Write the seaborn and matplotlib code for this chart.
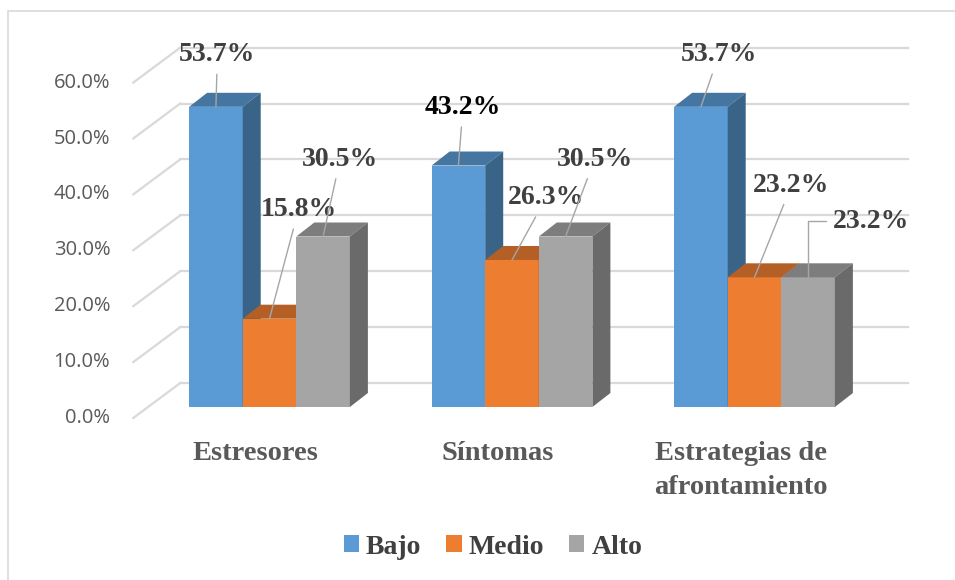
import numpy as np
import pandas as pd
import seaborn as sns
import matplotlib.pyplot as plt
from matplotlib.patches import Polygon, Patch, Rectangle
from matplotlib.lines import Line2D
from matplotlib.transforms import IdentityTransform, ScaledTranslation, blended_transform_factory
from matplotlib.colors import to_rgb

# data
categorias = ["Estresores", "Síntomas", "Estrategias de\nafrontamiento"]
niveles = ["Bajo", "Medio", "Alto"]
bajo = [53.7, 43.2, 53.7]
medio = [15.8, 26.3, 23.2]
alto = [30.5, 30.5, 23.2]
yticks = [0, 10, 20, 30, 40, 50, 60]

colores = ["#5B9BD5", "#ED7D31", "#A5A5A5"]

df = pd.DataFrame({
    "cat": categorias * 3,
    "nivel": ["Bajo"] * 3 + ["Medio"] * 3 + ["Alto"] * 3,
    "pct": bajo + medio + alto,
})

W, H = 955, 580
fig = plt.figure(figsize=(W / 100, H / 100), dpi=100)

# axes holds the front faces of the bars (pixel layout of the original)
left, right, bottom, top = 148.25, 875.75, 407, 71.6
ax = fig.add_axes([left / W, 1 - bottom / H, (right - left) / W, (bottom - top) / H])

sns.barplot(data=df, x="cat", y="pct", hue="nivel", order=categorias, hue_order=niveles,
            palette=colores, saturation=1, width=0.663, linewidth=0, legend=False, ax=ax)
ax.set_xlim(-0.5, 2.5)
ax.set_ylim(0, 60)
ax.set_autoscale_on(False)
ax.axis("off")

# depth offsets in pixels
bar_dx, bar_dy = 18, 14       # bar depth
back_dx, back_dy = 32, 24     # bar front -> back wall
front_dx, front_dy = -15, -11  # bar front -> front plane (tick labels)

grid_c = "#D9D9D9"
blend = blended_transform_factory(ax.transAxes, ax.transData)
for v in yticks:
    ax.plot([0, 1], [v, v], color=grid_c, lw=1.6, zorder=0, clip_on=False,
            transform=blend + ScaledTranslation(back_dx / 100, back_dy / 100, fig.dpi_scale_trans))
    X, Y = blend.transform((0, v))
    ax.add_line(Line2D([X + front_dx, X + back_dx], [Y + front_dy, Y + back_dy], color=grid_c,
                       lw=1.6, zorder=0, transform=IdentityTransform(), clip_on=False))
    ax.text(0, v, f"{v:.1f}%", ha="right", va="center", fontsize=14.5, color="#595959",
            family="Open Sans",
            transform=blend + ScaledTranslation(-38 / 100, front_dy / 100, fig.dpi_scale_trans))

# 3D faces for each bar, painted left to right
bars = sorted(ax.patches, key=lambda p: p.get_x())
for i, p in enumerate(bars):
    x0, x1, h = p.get_x(), p.get_x() + p.get_width(), p.get_height()
    X0, Yb = ax.transData.transform((x0, 0))
    X1, Yt = ax.transData.transform((x1, h))
    c = np.array(to_rgb(p.get_facecolor()))
    z = 2 + i * 3
    p.set_zorder(z)
    topf = [(X0, Yt), (X1, Yt), (X1 + bar_dx, Yt + bar_dy), (X0 + bar_dx, Yt + bar_dy)]
    side = [(X1, Yb), (X1, Yt), (X1 + bar_dx, Yt + bar_dy), (X1 + bar_dx, Yb + bar_dy)]
    ax.add_patch(Polygon(topf, closed=True, fc=c * 0.76, lw=0, zorder=z + 1,
                         transform=IdentityTransform(), clip_on=False))
    ax.add_patch(Polygon(side, closed=True, fc=c * 0.64, lw=0, zorder=z + 1,
                         transform=IdentityTransform(), clip_on=False))

# data labels with leader lines: offsets (pixels) from bar top centre
offsets = {
    ("Bajo", 0): (1.5, 52), ("Medio", 0): (29, 109), ("Alto", 0): (17, 77),
    ("Bajo", 1): (4.5, 58), ("Medio", 1): (34, 62), ("Alto", 1): (29, 77),
    ("Bajo", 2): (18, 52), ("Medio", 2): (37, 92), ("Alto", 2): (63, 56),
}
series = {"Bajo": bajo, "Medio": medio, "Alto": alto}
hue_w = 0.663 / 3
for j, niv in enumerate(niveles):
    for k, val in enumerate(series[niv]):
        xc = k - 0.663 / 2 + hue_w * (j + 0.5)
        dx, dy = offsets[(niv, k)]
        col = "black" if (niv, k) == ("Bajo", 1) else "#404040"
        conn = "angle,angleA=180,angleB=90,rad=0" if (niv, k) == ("Alto", 2) else "arc3"
        ax.annotate(f"{val:.1f}%", xy=(xc, val), xytext=(dx, dy), textcoords="offset pixels",
                    ha="center", va="center", fontsize=20, fontweight="bold",
                    family="Liberation Serif", color=col, zorder=40,
                    arrowprops=dict(arrowstyle="-", color="#A6A6A6", lw=1,
                                    shrinkA=3, shrinkB=0, connectionstyle=conn))

# category labels on the front plane
for k, cat in enumerate(categorias):
    ax.text(k, 0, cat, ha="center", va="top", fontsize=20.5, fontweight="bold",
            family="Liberation Serif", color="#595959", linespacing=1.45,
            multialignment="center",
            transform=ax.transData + ScaledTranslation(-14 / 100, -34 / 100, fig.dpi_scale_trans))

# legend
handles = [Patch(fc=c, lw=0) for c in colores]
leg = fig.legend(handles, niveles, loc="center", bbox_to_anchor=(493 / W, 1 - 547 / H),
                 ncol=3, frameon=False, handlelength=0.55, handleheight=0.55,
                 handletextpad=0.25, columnspacing=0.9,
                 prop={"family": "Liberation Serif", "weight": "bold", "size": 20})
for t in leg.get_texts():
    t.set_color("#404040")

# chart area border
fig.patches.append(Rectangle((8 / W, -0.1), 1.2, 1.1 - 11 / H, transform=fig.transFigure,
                             fill=False, ec="#D9D9D9", lw=1.2, zorder=0))

fig.savefig("out.png", dpi=100)
